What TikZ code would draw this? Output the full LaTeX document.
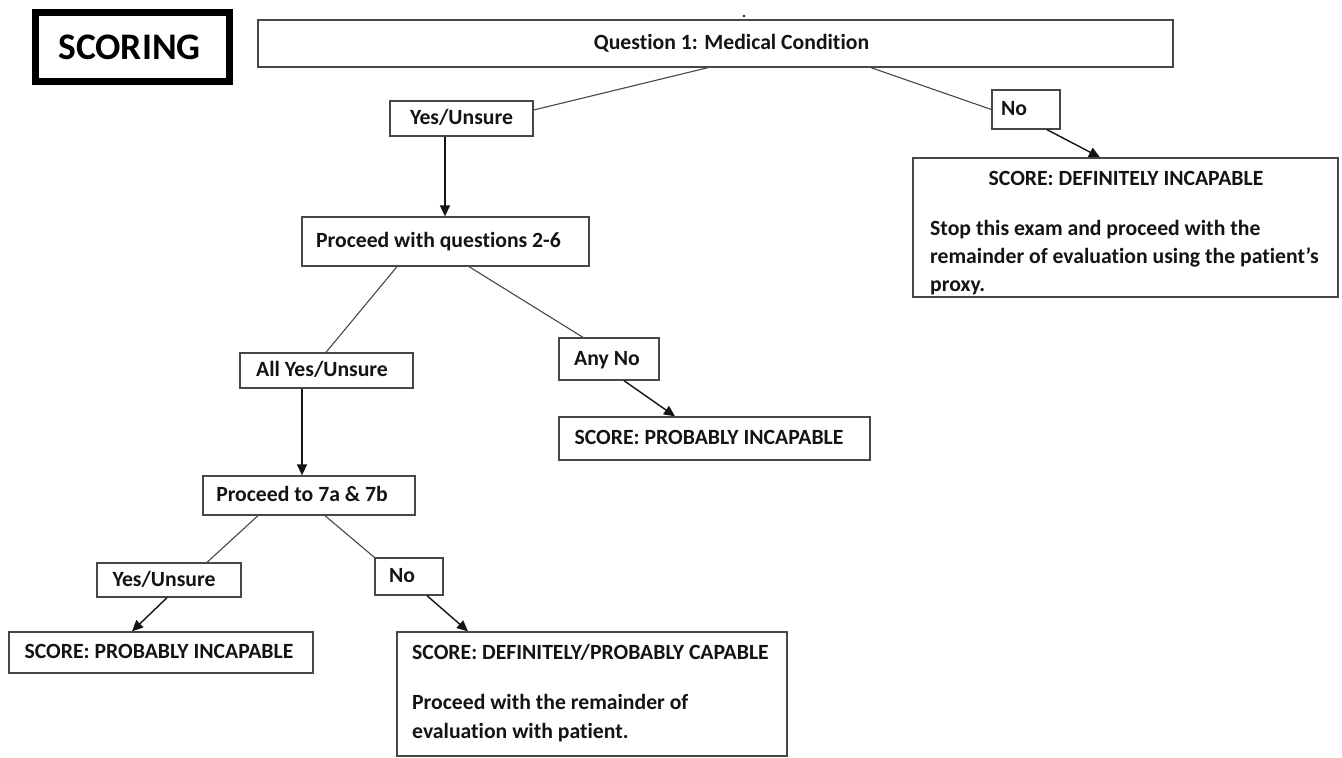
\documentclass[tikz,border=0pt]{standalone}
\usepackage{fontspec}
\setmainfont{Carlito}[Ligatures=NoCommon]
\usetikzlibrary{arrows.meta,calc}
\definecolor{ink}{HTML}{141414}
\definecolor{edge}{HTML}{474747}
\begin{document}
\begin{tikzpicture}[x=1pt,y=-1pt,
  every node/.style={font=\fontsize{21.7}{26}\selectfont\bfseries, text=ink},
  box/.style={draw=edge, line width=1.3pt, inner sep=0pt, text height=16pt, text depth=4pt},
  txt/.style={inner sep=0pt, text height=16pt, text depth=4pt},
  conn/.style={draw=edge, line width=1.1pt},
  arr/.style={draw=ink, line width=1.4pt, -{Triangle[length=11pt,width=10pt]}}]
\useasboundingbox (0,0) rectangle (1342,758);
\fill[white] (0,0) rectangle (1342,758);
% title
\node[draw=black, line width=7pt, minimum width=194pt, minimum height=69pt, inner sep=0pt,
      font=\fontsize{37.5}{42}\selectfont\bfseries, text=black] (score) at (132.5,47) {\hspace*{-6pt}SCORING};
% boxes
\node[box, minimum width=915pt, minimum height=47pt] (q1) at (715.5,43.5) {\hspace*{32pt}Question 1: Medical Condition};
\fill[ink] (744,16) circle (1.3);
\node[box, minimum width=143pt, minimum height=35pt] (yu1) at (461.5,118.5) {Yes/Unsure};
\node[box, minimum width=68pt, minimum height=39pt] (no1) at (1026,109.5) {\hspace*{-24pt}No};
\node[box, minimum width=425pt, minimum height=139pt] (di) at (1125.5,227.5) {};
\node[txt] (di1) at (1126,179) {SCORE: DEFINITELY INCAPABLE};
\node[txt, anchor=west] (di2) at (930,229) {Stop this exam and proceed with the};
\node[txt, anchor=west] (di3) at (930,257) {remainder of evaluation using the patient’s};
\node[txt, anchor=west] (di4) at (930,285) {proxy.};
\node[box, minimum width=287pt, minimum height=49pt] (p26) at (445.5,241.5) {\hspace*{-14pt}Proceed with questions 2-6};
\node[box, minimum width=173pt, minimum height=35pt] (ayu) at (326.5,370.5) {\hspace*{-9pt}All Yes/Unsure};
\node[box, minimum width=100pt, minimum height=42pt] (anyno) at (609,359) {\hspace*{-4pt}Any No};
\node[box, minimum width=311pt, minimum height=43pt] (pi1) at (714.5,438.5) {\hspace*{-11pt}SCORE: PROBABLY INCAPABLE};
\node[box, minimum width=212pt, minimum height=39pt] (p7) at (309,495.5) {\hspace*{-14pt}Proceed to 7a \& 7b};
\node[box, minimum width=144pt, minimum height=34pt] (yu2) at (169,580) {\hspace*{-10pt}Yes/Unsure};
\node[box, minimum width=68pt, minimum height=37pt] (no2) at (409,576.5) {\hspace*{-14pt}No};
\node[box, minimum width=304pt, minimum height=41pt] (pi2) at (161,652.5) {\hspace*{-4pt}SCORE: PROBABLY INCAPABLE};
\node[box, minimum width=390pt, minimum height=124pt] (dpc) at (592,694) {};
\node[txt, anchor=west] (dpc1) at (412,653) {SCORE: DEFINITELY/PROBABLY CAPABLE};
\node[txt, anchor=west] (dpc2) at (412,703) {Proceed with the remainder of};
\node[txt, anchor=west] (dpc3) at (412,732) {evaluation with patient.};
% connectors
\draw[conn] (q1.south -| 708,0) -- (yu1.east |- 0,110);
\draw[conn] (q1.south -| 871,0) -- (no1.west);
\draw[arr] (no1.south -| 1047,0) -- (di.north -| 1100,0);
\draw[arr] (yu1.south -| 445,0) -- (p26.north -| 445,0);
\draw[conn] (p26.south -| 397,0) -- (ayu.north -| 326,0);
\draw[conn] (p26.south -| 469,0) -- (anyno.north -| 583,0);
\draw[arr] (anyno.south -| 624,0) -- (pi1.north -| 675,0);
\draw[arr] (ayu.south -| 302,0) -- (p7.north -| 302,0);
\draw[conn] (p7.south -| 258,0) -- (yu2.north -| 207,0);
\draw[conn] (p7.south -| 325,0) -- (no2.north west);
\draw[arr] (yu2.south -| 167,0) -- (pi2.north -| 132,0);
\draw[arr] (no2.south -| 427,0) -- (dpc.north -| 468,0);
\end{tikzpicture}
\end{document}
